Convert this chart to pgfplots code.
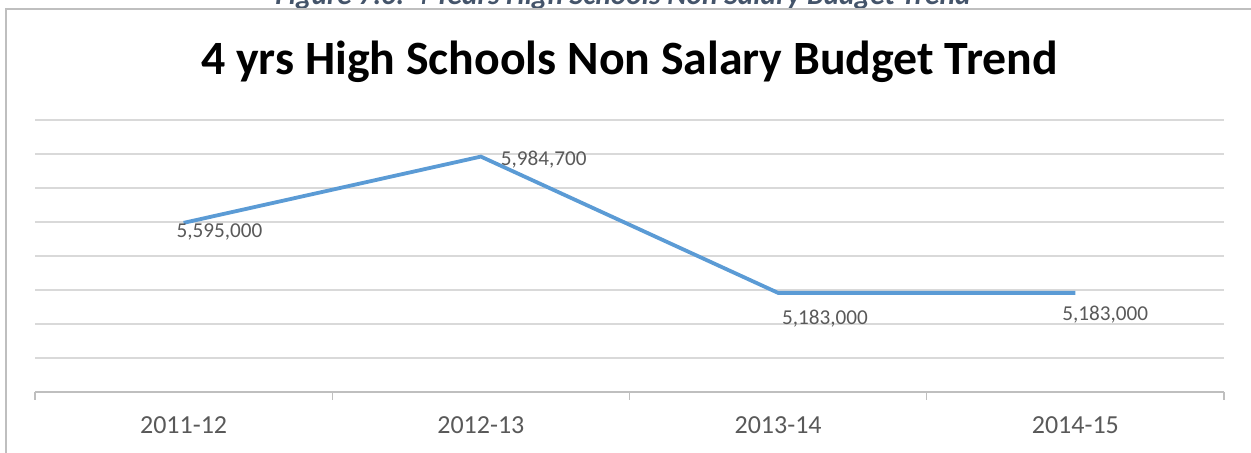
\documentclass[border=0pt]{standalone}
\usepackage{pgfplots}
\pgfplotsset{compat=1.18}
\usepackage{fontspec}
\setmainfont{Carlito}
\definecolor{linec}{HTML}{5B9BD5}
\definecolor{gridc}{HTML}{D9D9D9}
\definecolor{axisc}{HTML}{BFBFBF}
\definecolor{textc}{HTML}{595959}
\definecolor{capc}{HTML}{44546A}
\definecolor{framec}{HTML}{BFBFBF}
\begin{document}
\begin{tikzpicture}
\useasboundingbox (0,0) rectangle (625.5bp,226.5bp);
\clip (0,0) rectangle (625.5bp,226.5bp);
\node[anchor=base, font=\fontsize{14.7bp}{17bp}\selectfont\bfseries\itshape, text=capc, inner sep=0pt] at (311.5bp,224bp) {Figure 7.6: 4 Years High Schools Non Salary Budget Trend};
\draw[framec, line width=0.75bp] (3bp,-2bp) -- (3bp,222bp) -- (630bp,222bp);
\node[anchor=base, font=\fontsize{23.9bp}{29bp}\selectfont\bfseries, inner sep=0pt] at (314.7bp,189bp) {4 yrs High Schools Non Salary Budget Trend};
\begin{axis}[
  at={(17.5bp,30.5bp)}, anchor=south west,
  scale only axis, width=594.5bp, height=136bp,
  xmin=-0.5, xmax=3.5, ymin=4600000, ymax=6200000,
  scaled y ticks=false,
  ytick={4600000,4800000,5000000,5200000,5400000,5600000,5800000,6000000,6200000},
  yticklabels={},
  ymajorgrids, grid style={gridc, line width=0.6bp},
  axis x line*=bottom,
  separate axis lines,
  y axis line style={draw=none},
  x axis line style={axisc, line width=0.7bp, -},
  ytick style={draw=none},
  xtick={0,1,2,3},
  xticklabels={2011-12,2012-13,2013-14,2014-15},
  minor xtick={-0.5,0.5,1.5,2.5,3.5},
  major tick length=0pt, minor tick length=4bp, tick align=outside,
  minor x tick style={axisc, line width=0.7bp},
  xticklabel style={font=\fontsize{13bp}{15bp}\selectfont, text=textc, yshift=-9bp},
  clip=false,
]
\addplot[linec, line width=1.9bp, mark=none,
  nodes near coords={\pgfmathprintnumber[fixed,precision=0,1000 sep={,},assume math mode=true]{\pgfplotspointmeta}},
  visualization depends on={value \thisrow{dx} \as \dx},
  visualization depends on={value \thisrow{dy} \as \dy},
  every node near coord/.append style={anchor=west, inner sep=0pt, xshift=\dx bp, yshift=\dy bp, font=\fontsize{10.6bp}{12bp}\selectfont, text=textc},
] table[x=x, y=y] {
x y dx dy
0 5595000 -4.5 -4.5
1 5984700 9 -1.65
2 5183000 1 -13
3 5183000 -7.5 -11
};
\end{axis}
\end{tikzpicture}
\end{document}
